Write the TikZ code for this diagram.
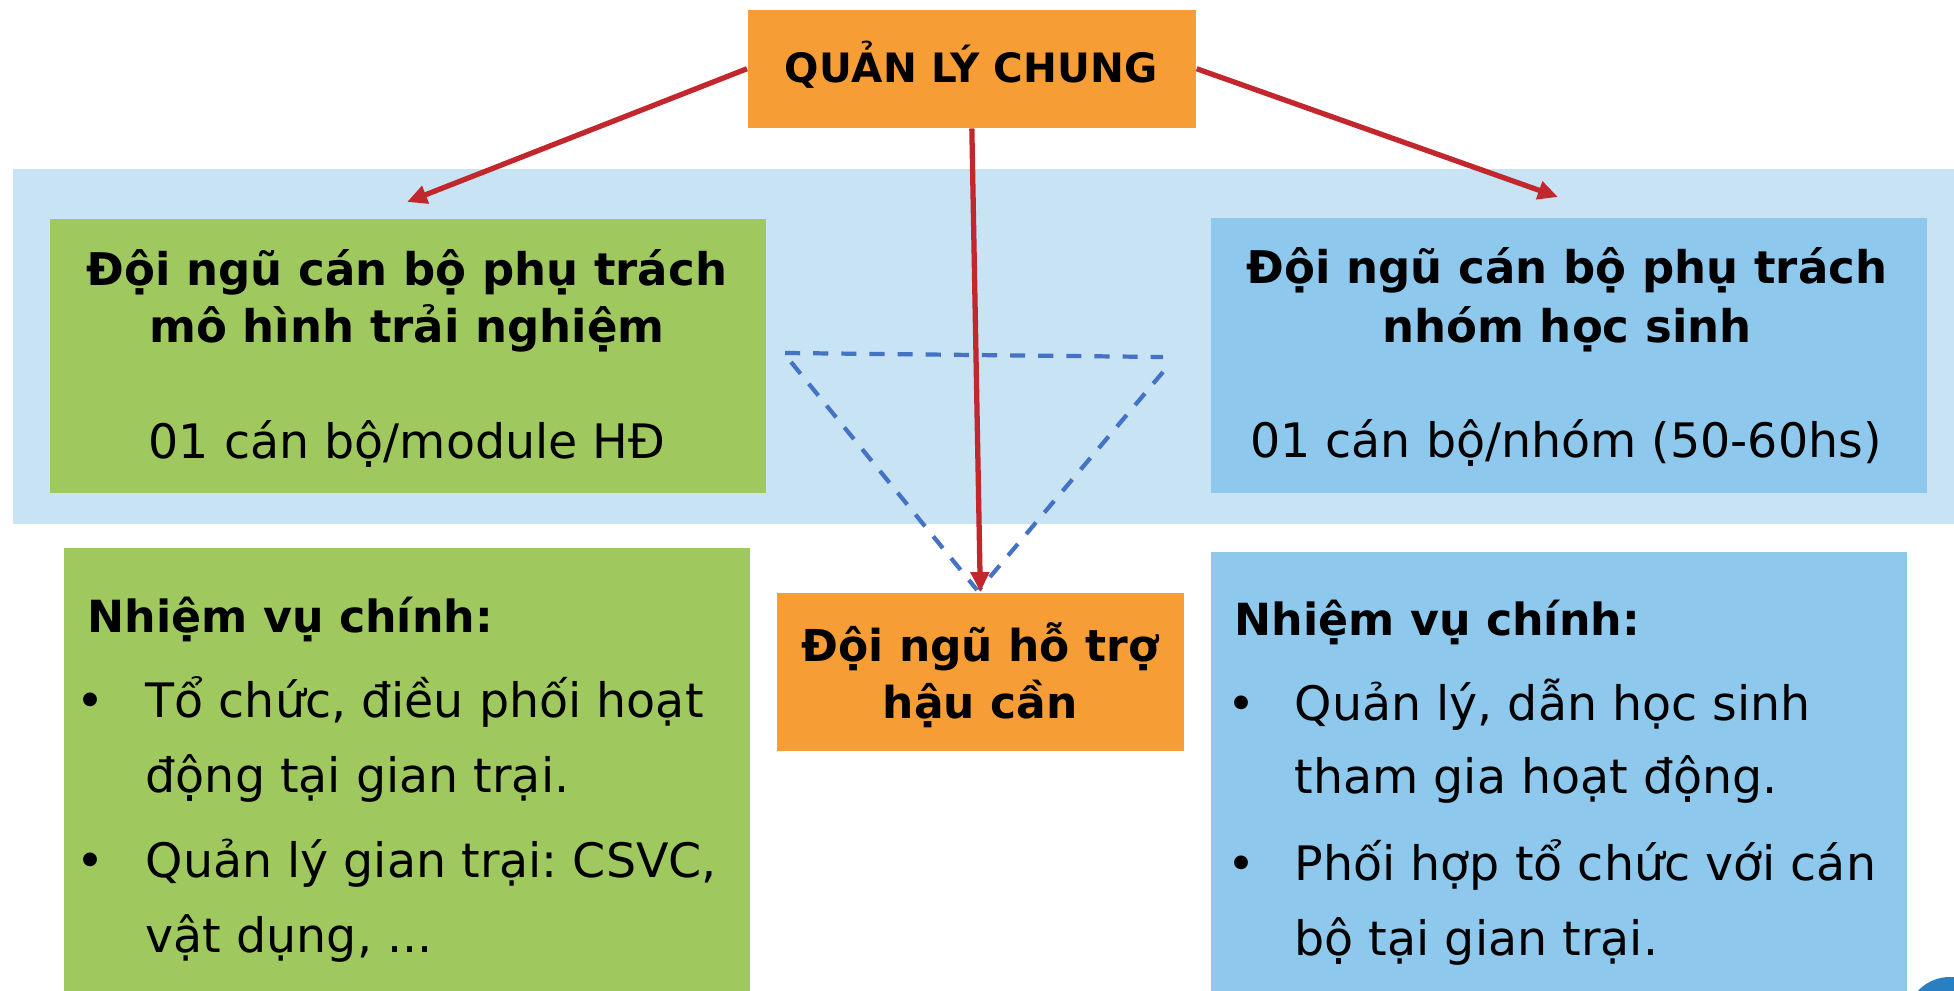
\documentclass[tikz,border=0pt]{standalone}
\usepackage{fontspec}
\setmainfont{DejaVu Sans}
\usepackage{xcolor}
\usetikzlibrary{arrows.meta}
\frenchspacing
\definecolor{qlorange}{HTML}{F79D35}
\definecolor{qlgreen}{HTML}{9FC95F}
\definecolor{qlband}{HTML}{C7E3F4}
\definecolor{qlblue}{HTML}{8EC8EC}
\definecolor{qlred}{HTML}{C1272D}
\definecolor{qldash}{HTML}{4472C4}
\definecolor{qlcircle}{HTML}{2A7EC2}

\begin{document}
\begin{tikzpicture}[x=0.01cm,y=-0.01cm,
    box/.style={inner sep=0,anchor=north west},
    txt/.style={inner sep=0,anchor=base},
    ltxt/.style={inner sep=0,anchor=base west},
    headfont/.style={font=\fontsize{12.8}{15}\selectfont\bfseries},
    bodyfont/.style={font=\fontsize{13.5}{16}\selectfont},
    conn/.style={qlred,line width=1.5pt,-{Triangle[length=0.2cm,width=0.18cm]}},
    tri/.style={qldash,line width=1.2pt,dash pattern=on 4.3pt off 3.7pt}]
\clip (0,0) rectangle (1954,991);
% === background band ===
\fill[qlband] (13,169) rectangle (1954,524);
% === boxes ===
\node[box,fill=qlorange,minimum width=4.48cm,minimum height=1.18cm] (mgmt) at (747,9) {};
\node[box,fill=qlgreen,minimum width=7.16cm,minimum height=2.74cm] (model) at (49,218) {};
\node[box,fill=qlblue,minimum width=7.16cm,minimum height=2.75cm] (group) at (1210,217) {};
\node[box,fill=qlorange,minimum width=4.07cm,minimum height=1.58cm] (support) at (776,592) {};
\node[box,fill=qlgreen,minimum width=6.86cm,minimum height=4.6cm] (gtask) at (63,547) {};
\node[box,fill=qlblue,minimum width=6.96cm,minimum height=4.6cm] (btask) at (1210,551) {};
\fill[qlcircle] (1950,1021) circle (0.44cm);
% === top title ===
\node[txt,font=\fontsize{11.5}{14}\selectfont\bfseries] (mgmtlbl) at (971,83) {QUẢN LÝ CHUNG};
% === upper left ===
\node[txt,headfont] (model1) at (407,286) {Đội ngũ cán bộ phụ trách};
\node[txt,headfont] (model2) at (407,343) {mô hình trải nghiệm};
\node[txt,bodyfont] (model3) at (407,458) {01 cán bộ/module HĐ};
% === upper right ===
\node[txt,headfont] (group1) at (1567,284) {Đội ngũ cán bộ phụ trách};
\node[txt,headfont] (group2) at (1567,342) {nhóm học sinh};
\node[txt,bodyfont] (group3) at (1566,457) {01 cán bộ/nhóm (50-60hs)};
% === middle ===
\node[txt,font=\fontsize{12.5}{15}\selectfont\bfseries] (sup1) at (980,661) {Đội ngũ hỗ trợ};
\node[txt,font=\fontsize{12.5}{15}\selectfont\bfseries] (sup2) at (980,718) {hậu cần};
% === lower left ===
\node[ltxt,font=\fontsize{12.6}{15}\selectfont\bfseries] (gtitle) at (87,632) {Nhiệm vụ chính:};
\node[txt,bodyfont] (gb1) at (91,717) {•};
\node[ltxt,bodyfont] (g1) at (145,717) {Tổ chức, điều phối hoạt};
\node[ltxt,bodyfont] (g2) at (145,792) {động tại gian trại.};
\node[txt,bodyfont] (gb2) at (91,877) {•};
\node[ltxt,bodyfont] (g3) at (145,877) {Quản lý gian trại: CSVC,};
\node[ltxt,bodyfont] (g4) at (145,952) {vật dụng, ...};
% === lower right ===
\node[ltxt,font=\fontsize{12.6}{15}\selectfont\bfseries] (btitle) at (1234,635) {Nhiệm vụ chính:};
\node[txt,bodyfont] (bb1) at (1241,720) {•};
\node[ltxt,bodyfont] (b1) at (1294,720) {Quản lý, dẫn học sinh};
\node[ltxt,bodyfont] (b2) at (1294,793) {tham gia hoạt động.};
\node[txt,bodyfont] (bb2) at (1241,880) {•};
\node[ltxt,bodyfont] (b3) at (1294,880) {Phối hợp tổ chức với cán};
\node[ltxt,bodyfont] (b4) at (1294,955) {bộ tại gian trại.};
% === dashed triangle ===
\draw[tri] (785,353) -- (1163,357);
\draw[tri] (791,362) -- (977,590);
\draw[tri] (1163,372) -- (979,590);
% === connectors ===
\coordinate (lend) at (407,202);
\coordinate (rend) at (1558,197);
\draw[conn] (mgmt.west) -- (lend);
\draw[conn] (mgmt.east) -- (rend);
\draw[conn] (mgmt.south) -- (support.north);
\end{tikzpicture}
\end{document}
